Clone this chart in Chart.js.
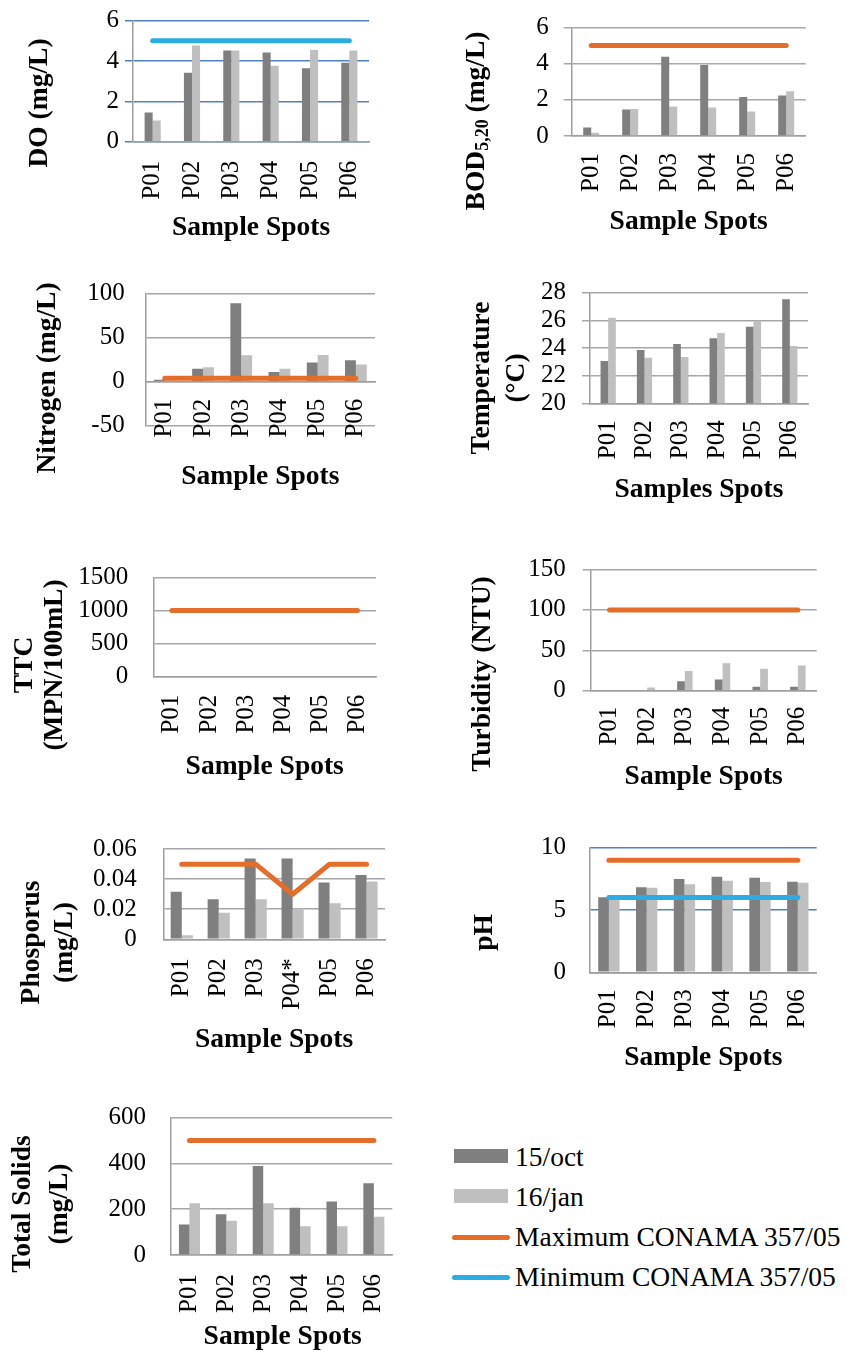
<!DOCTYPE html>
<html>
<head>
<meta charset="utf-8">
<title>Water quality by sample spot</title>
<script src="https://cdn.jsdelivr.net/npm/chart.js@4.4.1/dist/chart.umd.min.js"></script>
<style>
    body { margin: 0; background: #fff; width: 847px; height: 1353px; position: relative; overflow: hidden;
           font-family: 'Liberation Serif', 'Times New Roman', serif; }
    canvas { position: absolute; }
    #legend { position: absolute; left: 452px; top: 1137px; font-size: 27.5px; line-height: 40px; color: #000; }
    #legend .row { position: relative; height: 40px; padding-left: 63px; white-space: nowrap; }
    #legend .sw { position: absolute; left: 2px; top: 12px; width: 54px; height: 14px; }
    #legend .ln { position: absolute; left: 0; top: 17.5px; width: 58px; height: 5px; border-radius: 3px; }
</style>
</head>
<body>
<canvas id="c-do"></canvas>
<canvas id="c-bod"></canvas>
<canvas id="c-n"></canvas>
<canvas id="c-temp"></canvas>
<canvas id="c-ttc"></canvas>
<canvas id="c-turb"></canvas>
<canvas id="c-p"></canvas>
<canvas id="c-ph"></canvas>
<canvas id="c-ts"></canvas>
<div id="legend"></div>
<script>
// Categories and series names
const spots = ['P01', 'P02', 'P03', 'P04', 'P05', 'P06'];
const spotsP = ['P01', 'P02', 'P03', 'P04*', 'P05', 'P06'];
const seriesNames = ['15/oct', '16/jan', 'Maximum CONAMA 357/05', 'Minimum CONAMA 357/05'];

// DO (mg/L)
const doOct = [1.45, 3.42, 4.52, 4.42, 3.64, 3.92];
const doJan = [1.05, 4.77, 4.52, 3.77, 4.55, 4.52];
const doMin = [5, 5, 5, 5, 5, 5];

// BOD 5,20 (mg/L)
const bodOct = [0.47, 1.46, 4.38, 3.93, 2.15, 2.24];
const bodJan = [0.18, 1.5, 1.63, 1.57, 1.36, 2.48];
const bodMax = [5, 5, 5, 5, 5, 5];

// Nitrogen (mg/L)
const nOct = [2, 14.5, 89, 10.9, 21.8, 24.4];
const nJan = [1, 16.4, 29.8, 14.5, 30.2, 19.3];
const nMax = [3.7, 3.7, 3.7, 3.7, 3.7, 3.7];

// Temperature (°C)
const tempOct = [23.06, 23.86, 24.29, 24.7, 25.54, 27.52];
const tempJan = [26.19, 23.3, 23.35, 25.08, 25.98, 24.14];

// TTC (MPN/100mL)
const ttcOct = [0, 0, 0, 0, 0, 0];
const ttcJan = [0, 0, 0, 0, 0, 0];
const ttcMax = [1000, 1000, 1000, 1000, 1000, 1000];

// Turbidity (NTU)
const turbOct = [0, 0, 11.8, 13.8, 4.9, 4.9];
const turbJan = [0, 4.1, 24.4, 34.1, 27.2, 31.3];
const turbMax = [100, 100, 100, 100, 100, 100];

// Phosphorus (mg/L)
const pOct = [0.0317, 0.0267, 0.0537, 0.0537, 0.0377, 0.0427];
const pJan = [0.0027, 0.0177, 0.0267, 0.0204, 0.024, 0.0385];
const pMax = [0.05, 0.05, 0.05, 0.03, 0.05, 0.05];

// pH
const phOct = [6.02, 6.82, 7.49, 7.67, 7.59, 7.27];
const phJan = [6.0, 6.79, 7.06, 7.35, 7.25, 7.19];
const phMax = [9, 9, 9, 9, 9, 9];
const phMin = [6, 6, 6, 6, 6, 6];

// Total Solids (mg/L)
const tsOct = [133, 178, 388, 206, 234, 313];
const tsJan = [226, 150, 226, 126, 126, 167];
const tsMax = [500, 500, 500, 500, 500, 500];

// Styles
const DARK = '#7f7f7f';
const LIGHT = '#bfbfbf';
const ORANGE = '#e46d2a';
const CYAN = '#2bace2';
const GRID_GRAY = '#a6a6a6';
const GRID_BLUE = '#4f81bd';
const AXIS = '#9e9e9e';
const SERIF = "'Liberation Serif', 'Times New Roman', serif";
const titleFont = 'bold 27.5px ' + SERIF;
const subFont = 'bold 18px ' + SERIF;

Chart.defaults.font.family = SERIF;
Chart.defaults.font.size = 25;
Chart.defaults.font.lineHeight = 1;
Chart.defaults.color = '#000';

// Panel layout (page pixels): box = canvas, area = plot area [left, top, right, bottom]
const panels = [
    { id: 'c-do', box: [0, 0, 420, 260], area: [133, 20.7, 369, 141.7], min: 0, max: 6, step: 2,
      grid: GRID_BLUE, tl: 8, yPad: 6, xPad: 19, cat: 0.41, labels: spots,
      oct: doOct, jan: doJan, mn: doMin,
      yTitle: [{ runs: [{ t: 'DO (mg/L)' }], x: 40, y: 103 }], xTitle: { t: 'Sample Spots', x: 251, y: 228 } },
    { id: 'c-bod', box: [420, 0, 427, 260], area: [571.7, 15, 805.7, 136], min: 0, max: 6, step: 2,
      grid: GRID_GRAY, tl: 8, yPad: 15, xPad: 17, cat: 0.41, labels: spots,
      oct: bodOct, jan: bodJan, mx: bodMax,
      yTitle: [{ runs: [{ t: 'BOD' }, { t: '5,20', sub: true }, { t: ' (mg/L)' }], x: 476.7, y: 121 }],
      xTitle: { t: 'Sample Spots', x: 688.7, y: 221.7 } },
    { id: 'c-n', box: [0, 260, 420, 280], area: [145.7, 289, 375, 425.7], min: -50, max: 100, step: 50,
      grid: GRID_GRAY, tl: 0, yPad: 21, xPad: 17, cat: 0.57, labels: spots, zeroAxis: true,
      oct: nOct, jan: nJan, mx: nMax,
      yTitle: [{ runs: [{ t: 'Nitrogen (mg/L)' }], x: 48, y: 378 }], xTitle: { t: 'Sample Spots', x: 260.3, y: 476.7 } },
    { id: 'c-temp', box: [420, 260, 427, 280], area: [590, 292.7, 808, 403.3], min: 20, max: 28, step: 2,
      grid: GRID_GRAY, tl: 8, yPad: 16, xPad: 17, cat: 0.42, labels: spots,
      oct: tempOct, jan: tempJan,
      yTitle: [{ runs: [{ t: 'Temperature' }], x: 481.7, y: 378 }, { runs: [{ t: '(°C)' }], x: 516.7, y: 378 }],
      xTitle: { t: 'Samples Spots', x: 699, y: 490 } },
    { id: 'c-ttc', box: [0, 540, 420, 270], area: [153.3, 568.3, 376, 676.7], min: 0, max: 1500, step: 500,
      grid: GRID_GRAY, tl: 0, yPad: 25, xPad: 18, cat: 0.41, labels: spots,
      oct: ttcOct, jan: ttcJan, mx: ttcMax,
      yTitle: [{ runs: [{ t: 'TTC' }], x: 25, y: 665 }, { runs: [{ t: '(MPN/100mL)' }], x: 55, y: 665 }],
      xTitle: { t: 'Sample Spots', x: 264.7, y: 766.7 } },
    { id: 'c-turb', box: [420, 540, 427, 270], area: [590.7, 567.7, 816.7, 690.7], min: 0, max: 150, step: 50,
      grid: GRID_GRAY, tl: 8, yPad: 17, xPad: 16, cat: 0.41, labels: spots,
      oct: turbOct, jan: turbJan, mx: turbMax,
      yTitle: [{ runs: [{ t: 'Turbidity (NTU)' }], x: 483.3, y: 674 }], xTitle: { t: 'Sample Spots', x: 703.7, y: 777.3 } },
    { id: 'c-p', box: [0, 810, 420, 270], area: [163.3, 843.3, 385, 939.3], min: 0, max: 0.06, step: 0.02,
      grid: GRID_GRAY, tl: 0, yPad: 26.6, xPad: 19, cat: 0.6, labels: spotsP,
      oct: pOct, jan: pJan, mx: pMax,
      yTitle: [{ runs: [{ t: 'Phosporus' }], x: 31.7, y: 942.5 }, { runs: [{ t: '(mg/L)' }], x: 65, y: 942.5 }],
      xTitle: { t: 'Sample Spots', x: 274, y: 1040 } },
    { id: 'c-ph', box: [420, 810, 427, 270], area: [590, 847.7, 816.7, 972.3], min: 0, max: 10, step: 5,
      grid: GRID_BLUE, tl: 0, yPad: 24, xPad: 17, cat: 0.565, labels: spots,
      oct: phOct, jan: phJan, mx: phMax, mn: phMin,
      yTitle: [{ runs: [{ t: 'pH' }], x: 485, y: 932.5 }], xTitle: { t: 'Sample Spots', x: 703.3, y: 1058.3 } },
    { id: 'c-ts', box: [0, 1080, 420, 273], area: [171, 1112.3, 394.3, 1255], min: 0, max: 600, step: 200,
      grid: GRID_GRAY, tl: 0, yPad: 25, xPad: 19, cat: 0.57, labels: spots,
      oct: tsOct, jan: tsJan, mx: tsMax,
      yTitle: [{ runs: [{ t: 'Total Solids' }], x: 23.3, y: 1204 }, { runs: [{ t: '(mg/L)' }], x: 60, y: 1204 }],
      xTitle: { t: 'Sample Spots', x: 282.7, y: 1336.7 } }
];

// Draw text runs centred on the origin (supports a subscript run)
function drawRuns(ctx, runs) {
    let total = 0;
    runs.forEach(r => {
        ctx.font = r.sub ? subFont : titleFont;
        r.w = ctx.measureText(r.t).width;
        total += r.w;
    });
    let x = -total / 2;
    ctx.textAlign = 'left';
    runs.forEach(r => {
        ctx.font = r.sub ? subFont : titleFont;
        ctx.fillText(r.t, x, r.sub ? 7 : 0);
        x += r.w;
    });
}

// Axis titles placed where the original figure has them
function titlePlugin(p) {
    return {
        id: 'axisTitles',
        afterDraw(chart) {
            const ctx = chart.ctx;
            const cx = p.box[0], cy = p.box[1];
            ctx.save();
            ctx.fillStyle = '#000';
            ctx.textBaseline = 'middle';
            p.yTitle.forEach(line => {
                ctx.save();
                ctx.translate(line.x - cx, line.y - cy);
                ctx.rotate(-Math.PI / 2);
                drawRuns(ctx, line.runs);
                ctx.restore();
            });
            ctx.translate(p.xTitle.x - cx, p.xTitle.y - cy);
            drawRuns(ctx, [{ t: p.xTitle.t }]);
            ctx.restore();
        }
    };
}

function lineSet(label, data, color) {
    return {
        type: 'line', label, data, borderColor: color, backgroundColor: color, borderWidth: 5,
        pointRadius: 0, pointHoverRadius: 0, fill: false, tension: 0,
        borderCapStyle: 'round', borderJoinStyle: 'round', order: 0
    };
}

// Create one panel
function makePanel(p) {
    const canvas = document.getElementById(p.id);
    const [cx, cy, cw, ch] = p.box;
    const [L, T, R, B] = p.area;
    canvas.width = cw;
    canvas.height = ch;
    canvas.style.left = cx + 'px';
    canvas.style.top = cy + 'px';
    canvas.style.width = cw + 'px';
    canvas.style.height = ch + 'px';

    const tickFont = { family: SERIF, size: 25, lineHeight: 1 };
    const datasets = [
        { label: seriesNames[0], data: p.oct, backgroundColor: DARK, order: 1, barPercentage: 1, categoryPercentage: p.cat },
        { label: seriesNames[1], data: p.jan, backgroundColor: LIGHT, order: 1, barPercentage: 1, categoryPercentage: p.cat }
    ];
    if (p.mx) datasets.push(lineSet(seriesNames[2], p.mx, ORANGE));
    if (p.mn) datasets.push(lineSet(seriesNames[3], p.mn, CYAN));

    const xScale = {
        position: p.zeroAxis ? { y: 0 } : 'bottom',
        grid: { display: false, drawTicks: false },
        border: { color: AXIS, width: 1.5 },
        ticks: { font: tickFont, color: '#000', minRotation: 90, maxRotation: 90, padding: p.xPad, autoSkip: false }
    };
    if (!p.zeroAxis) {
        xScale.afterFit = (scale) => { scale.height = cy + ch - B; };
    }

    new Chart(canvas, {
        type: 'bar',
        data: { labels: p.labels, datasets },
        options: {
            responsive: false,
            animation: false,
            devicePixelRatio: 1,
            layout: { padding: { left: 0, top: T - cy, right: cx + cw - R, bottom: p.zeroAxis ? cy + ch - B : 0 } },
            plugins: { legend: { display: false }, tooltip: { enabled: false } },
            scales: {
                x: xScale,
                y: {
                    min: p.min,
                    max: p.max,
                    ticks: {
                        stepSize: p.step, font: tickFont, color: '#000', padding: p.yPad, autoSkip: false,
                        callback: (v) => String(Math.round(v * 1e6) / 1e6)
                    },
                    grid: { color: p.grid, lineWidth: 1.5, drawTicks: p.tl > 0, tickLength: p.tl },
                    border: { color: AXIS, width: 1.5 },
                    afterFit: (scale) => { scale.width = L - cx; }
                }
            }
        },
        plugins: [titlePlugin(p)]
    });
}

panels.forEach(makePanel);

// Shared legend
const legendStyles = [
    { kind: 'sw', color: DARK },
    { kind: 'sw', color: LIGHT },
    { kind: 'ln', color: ORANGE },
    { kind: 'ln', color: CYAN }
];
const legend = document.getElementById('legend');
seriesNames.forEach((name, i) => {
    const row = document.createElement('div');
    row.className = 'row';
    const mark = document.createElement('span');
    mark.className = legendStyles[i].kind;
    mark.style.background = legendStyles[i].color;
    row.appendChild(mark);
    row.appendChild(document.createTextNode(name));
    legend.appendChild(row);
});
</script>
</body>
</html>
